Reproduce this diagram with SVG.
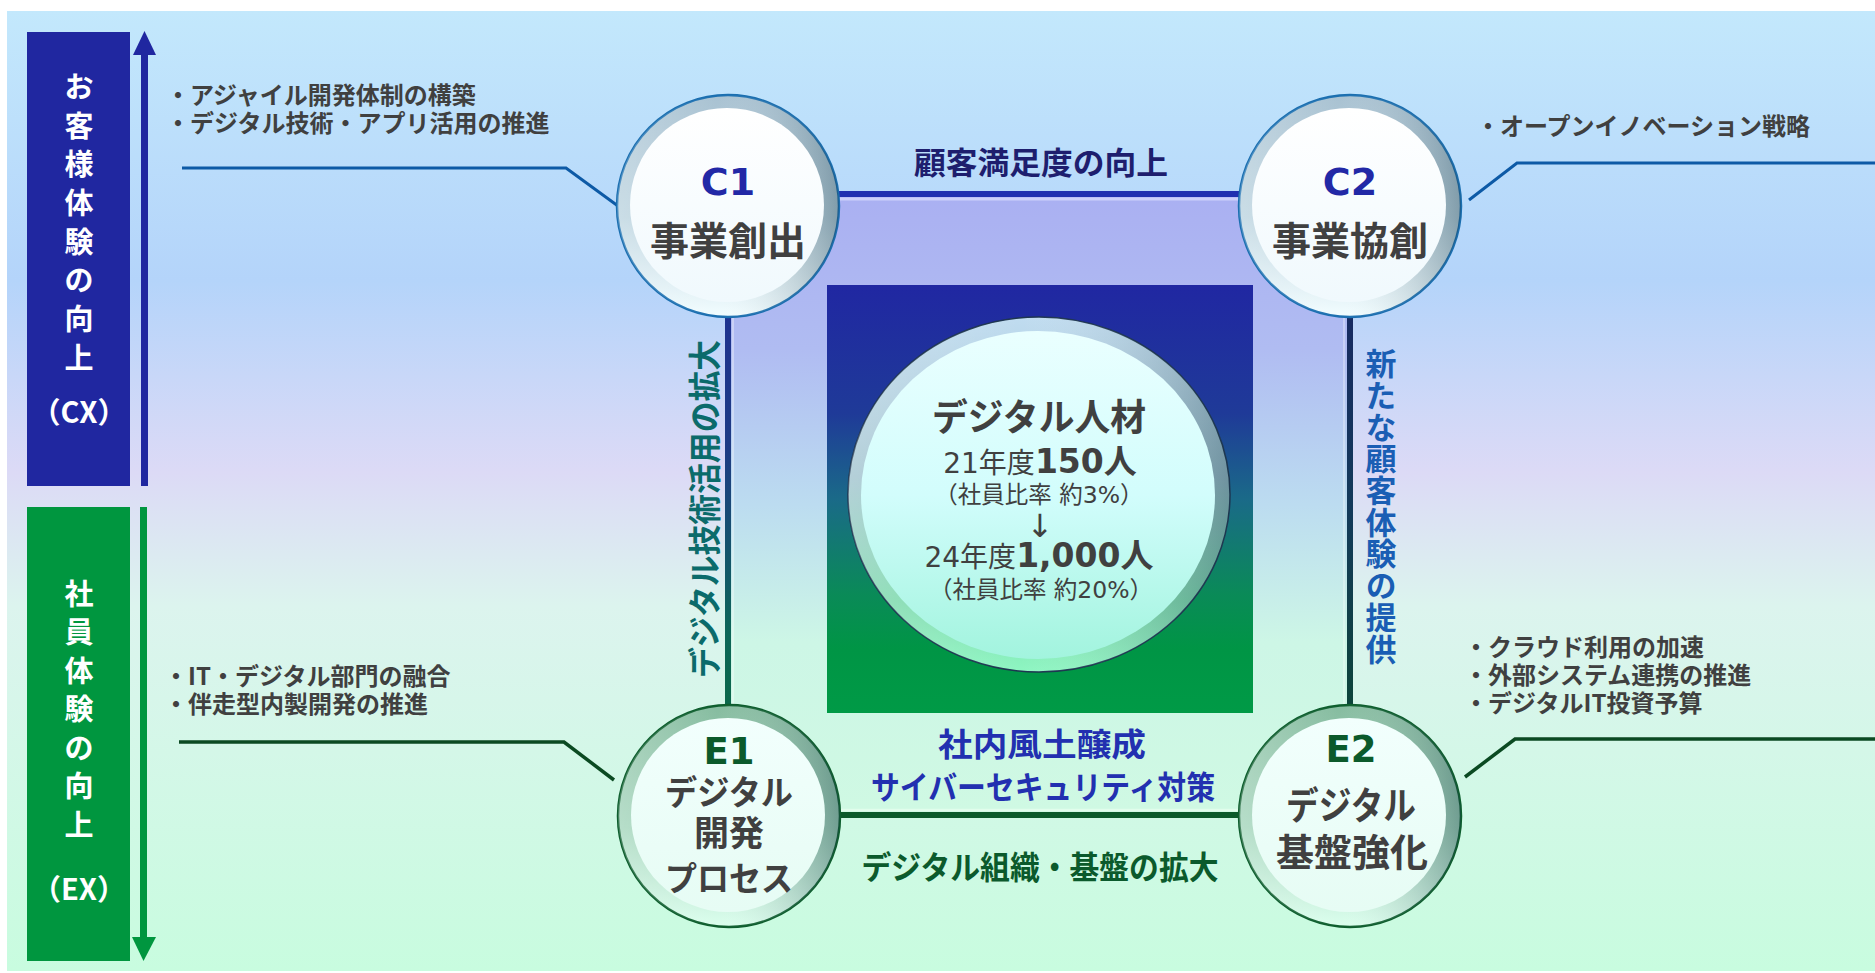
<svg xmlns="http://www.w3.org/2000/svg" width="1875" height="973" viewBox="0 0 1875 973">
<defs>
<linearGradient id="bg" x1="0" y1="0" x2="0" y2="1">
<stop offset="0" stop-color="#c3e8fc"/>
<stop offset="0.28" stop-color="#b4d4fa"/>
<stop offset="0.48" stop-color="#dcdaf6"/>
<stop offset="0.62" stop-color="#dcf4ee"/>
<stop offset="1" stop-color="#c8fcdf"/>
</linearGradient>
<linearGradient id="sq" x1="0" y1="0" x2="0" y2="1">
<stop offset="0" stop-color="#aab0f2"/>
<stop offset="0.25" stop-color="#b0bcf2"/>
<stop offset="0.5" stop-color="#bcdcf0"/>
<stop offset="0.72" stop-color="#cdf6e6"/>
<stop offset="1" stop-color="#cff9e3"/>
</linearGradient>
<linearGradient id="core" x1="0" y1="0" x2="0" y2="1">
<stop offset="0" stop-color="#2027a2"/>
<stop offset="0.3" stop-color="#1f3a98"/>
<stop offset="0.5" stop-color="#1a6a88"/>
<stop offset="0.72" stop-color="#0a8a58"/>
<stop offset="0.85" stop-color="#009545"/>
<stop offset="1" stop-color="#009a46"/>
</linearGradient>
<linearGradient id="vl" x1="0" y1="0" x2="0" y2="1">
<stop offset="0" stop-color="#1e2a9a"/>
<stop offset="0.4" stop-color="#1e3c84"/>
<stop offset="0.7" stop-color="#0c6658"/>
<stop offset="1" stop-color="#0a6a36"/>
</linearGradient>
<linearGradient id="vr" x1="0" y1="0" x2="0" y2="1">
<stop offset="0" stop-color="#1a2266"/>
<stop offset="0.5" stop-color="#133a5a"/>
<stop offset="1" stop-color="#0a4a28"/>
</linearGradient>
<linearGradient id="ringC" x1="0" y1="0" x2="0" y2="1">
<stop offset="0" stop-color="#a9c2d2"/>
<stop offset="0.55" stop-color="#b9d2de"/>
<stop offset="1" stop-color="#f2fdff"/>
</linearGradient>
<linearGradient id="ringE" x1="0" y1="0" x2="0" y2="1">
<stop offset="0" stop-color="#86bca0"/>
<stop offset="0.55" stop-color="#9fd3b8"/>
<stop offset="1" stop-color="#dcffee"/>
</linearGradient>
<linearGradient id="shadeR" x1="0" y1="0" x2="1" y2="0">
<stop offset="0" stop-color="#ffffff" stop-opacity="0.25"/>
<stop offset="0.45" stop-color="#ffffff" stop-opacity="0"/>
<stop offset="1" stop-color="#1c3c4c" stop-opacity="0.35"/>
</linearGradient>
<linearGradient id="innerC" x1="0" y1="0" x2="0" y2="1">
<stop offset="0" stop-color="#ffffff"/>
<stop offset="1" stop-color="#f0f9fd"/>
</linearGradient>
<linearGradient id="innerE" x1="0" y1="0" x2="0" y2="1">
<stop offset="0" stop-color="#f2fffd"/>
<stop offset="1" stop-color="#e6fcf4"/>
</linearGradient>
<linearGradient id="ringM" x1="0" y1="0" x2="0" y2="1">
<stop offset="0" stop-color="#c0dcf0"/>
<stop offset="0.45" stop-color="#9cc0cc"/>
<stop offset="0.8" stop-color="#78d8aa"/>
<stop offset="1" stop-color="#8ef6c2"/>
</linearGradient>
<linearGradient id="innerM" x1="0" y1="0" x2="0" y2="1">
<stop offset="0" stop-color="#eaffff"/>
<stop offset="0.5" stop-color="#d2fdfc"/>
<stop offset="1" stop-color="#a2f4de"/>
</linearGradient>
<style>
.jp{font-family:"Noto Sans CJK JP","Noto Sans CJK SC",sans-serif;font-weight:700}
.lat{font-family:"DejaVu Sans","Noto Sans CJK JP",sans-serif}
.list{font-size:24px;fill:#404040}
.side{font-size:29px;fill:#ffffff;text-anchor:middle}
.ttl{text-anchor:middle;fill:#404040}
.mid{text-anchor:middle}
.cb{stroke:#1b6fb0;stroke-width:2.5}
.eb{stroke:#0e5e2e;stroke-width:2.5}
</style>
</defs>

<rect id="background" x="7" y="11" width="1868" height="960" fill="url(#bg)"/>

<g id="axis-cx">
<rect x="27" y="32" width="103" height="454" fill="#2027a0"/>
<rect x="141" y="50" width="7" height="436" fill="#2027a0"/>
<polygon points="133,55 144.5,31 156,55" fill="#2027a0"/>
<text class="jp side">
<tspan x="79" y="98">お</tspan><tspan x="79" y="137">客</tspan><tspan x="79" y="175">様</tspan><tspan x="79" y="214">体</tspan><tspan x="79" y="253">験</tspan><tspan x="79" y="291">の</tspan><tspan x="79" y="330">向</tspan><tspan x="79" y="369">上</tspan>
</text>
<text class="jp side" x="79" y="423" font-size="31">（CX）</text>
</g>

<g id="axis-ex">
<rect x="27" y="507" width="103" height="454" fill="#00963f"/>
<rect x="140" y="507" width="7" height="432" fill="#00963f"/>
<polygon points="132,937 143.5,961 156,937" fill="#00963f"/>
<text class="jp side">
<tspan x="79" y="605">社</tspan><tspan x="79" y="643">員</tspan><tspan x="79" y="682">体</tspan><tspan x="79" y="720">験</tspan><tspan x="79" y="759">の</tspan><tspan x="79" y="797">向</tspan><tspan x="79" y="836">上</tspan>
</text>
<text class="jp side" x="79" y="900" font-size="31">（EX）</text>
</g>

<rect id="frame-fill" x="728" y="194" width="622" height="621" fill="url(#sq)"/>

<g id="connectors" fill="none">
<line x1="728" y1="194" x2="1350" y2="194" stroke="#2030b0" stroke-width="6"/>
<line x1="728" y1="199" x2="1350" y2="199" stroke="#d4d8fb" stroke-width="3" opacity="0.8"/>
<line x1="728" y1="815" x2="1350" y2="815" stroke="#0b5a2a" stroke-width="6"/>
<line x1="728" y1="810" x2="1350" y2="810" stroke="#e8fff0" stroke-width="2.5" opacity="0.7"/>
<rect x="725" y="206" width="6" height="611" fill="url(#vl)" stroke="none"/>
<line x1="733" y1="206" x2="733" y2="817" stroke="#ffffff" stroke-width="2" opacity="0.35"/>
<rect x="1347" y="206" width="6" height="611" fill="url(#vr)" stroke="none"/>
<line x1="1344" y1="206" x2="1344" y2="817" stroke="#ffffff" stroke-width="2" opacity="0.3"/>
<polyline points="182,168 566,168 618,206" stroke="#0d5aa6" stroke-width="3"/>
<polyline points="179,742 564,742 614,780" stroke="#0b4a22" stroke-width="3.5"/>
<polyline points="1469,200 1517,163 1875,163" stroke="#0d5aa6" stroke-width="3"/>
<polyline points="1465,777 1515,739 1875,739" stroke="#0b4a22" stroke-width="3.5"/>
</g>

<g id="labels">
<text class="jp mid" x="1041" y="173.5" font-size="31" textLength="254" lengthAdjust="spacingAndGlyphs" fill="#1e1e6e">顧客満足度の向上</text>
<text class="jp mid" x="1042" y="756" font-size="32" textLength="208" lengthAdjust="spacingAndGlyphs" fill="#2230b0">社内風土醸成</text>
<text class="jp mid" x="1043" y="798.5" font-size="32" textLength="344" lengthAdjust="spacingAndGlyphs" fill="#2230b0">サイバーセキュリティ対策</text>
<text class="jp mid" x="1040" y="879" font-size="32" textLength="357" lengthAdjust="spacingAndGlyphs" fill="#0b5a2c">デジタル組織・基盤の拡大</text>
<text class="jp mid" transform="translate(717,509) rotate(-90)" font-size="33" textLength="338" lengthAdjust="spacingAndGlyphs" fill="#0b6b6b">デジタル技術活用の拡大</text>
<text class="jp" x="1381" y="348" font-size="31" letter-spacing="0.7" style="writing-mode:vertical-rl" fill="#1a5eb4">新たな顧客体験の提供</text>
</g>

<g id="notes">
<text class="jp list"><tspan x="166" y="104">・アジャイル開発体制の構築</tspan><tspan x="166" y="132">・デジタル技術・アプリ活用の推進</tspan></text>
<text class="jp list"><tspan x="164" y="685">・IT・デジタル部門の融合</tspan><tspan x="164" y="713">・伴走型内製開発の推進</tspan></text>
<text class="jp list"><tspan x="1476" y="135">・オープンイノベーション戦略</tspan></text>
<text class="jp list"><tspan x="1464" y="656">・クラウド利用の加速</tspan><tspan x="1464" y="684">・外部システム連携の推進</tspan><tspan x="1464" y="712">・デジタルIT投資予算</tspan></text>
</g>

<g id="core-digital-talent">
<rect x="827" y="285" width="426" height="428" fill="url(#core)"/>
<ellipse cx="1039" cy="494.5" rx="191" ry="177.5" fill="url(#ringM)" stroke="#1d3550" stroke-width="1.5"/>
<ellipse cx="1039" cy="494.5" rx="191" ry="177.5" fill="url(#shadeR)"/>
<ellipse cx="1038" cy="495" rx="177" ry="164" fill="url(#innerM)"/>
<text class="jp ttl" x="1039" y="430.5" font-size="37" textLength="214" lengthAdjust="spacingAndGlyphs">デジタル人材</text>
<text class="lat ttl" x="1040" y="472.5"><tspan font-size="28" font-weight="400">21年度</tspan><tspan font-size="33" font-weight="700">150人</tspan></text>
<text class="lat ttl" x="1039" y="503" font-size="23.5" font-weight="400">（社員比率 約3%）</text>
<text class="lat ttl" x="1040" y="537" font-size="32" font-weight="400">↓</text>
<text class="lat ttl" x="1039" y="567"><tspan font-size="28" font-weight="400">24年度</tspan><tspan font-size="33" font-weight="700">1,000人</tspan></text>
<text class="lat ttl" x="1041" y="598" font-size="23.5" font-weight="400">（社員比率 約20%）</text>
</g>

<g id="node-c1">
<circle cx="728" cy="206" r="111" fill="url(#ringC)" class="cb"/>
<circle cx="728" cy="206" r="111" fill="url(#shadeR)"/>
<circle cx="727" cy="205" r="97" fill="url(#innerC)"/>
<text class="lat ttl" x="728" y="195" font-size="38" font-weight="700" style="fill:#2228a6">C1</text>
<text class="jp ttl" x="728" y="255" font-size="39">事業創出</text>
</g>

<g id="node-c2">
<circle cx="1350" cy="206" r="111" fill="url(#ringC)" class="cb"/>
<circle cx="1350" cy="206" r="111" fill="url(#shadeR)"/>
<circle cx="1349" cy="205" r="97" fill="url(#innerC)"/>
<text class="lat ttl" x="1350" y="195" font-size="38" font-weight="700" style="fill:#2228a6">C2</text>
<text class="jp ttl" x="1350" y="255" font-size="39">事業協創</text>
</g>

<g id="node-e1">
<circle cx="729" cy="816" r="111" fill="url(#ringE)" class="eb"/>
<circle cx="729" cy="816" r="111" fill="url(#shadeR)"/>
<circle cx="728" cy="815" r="97" fill="url(#innerE)"/>
<text class="lat ttl" x="729" y="764" font-size="37" font-weight="700" style="fill:#0b5a2b">E1</text>
<text class="jp ttl" x="729" y="805" font-size="34" textLength="128" lengthAdjust="spacingAndGlyphs">デジタル</text>
<text class="jp ttl" x="729" y="846" font-size="35">開発</text>
<text class="jp ttl" x="729" y="891" font-size="34" textLength="128" lengthAdjust="spacingAndGlyphs">プロセス</text>
</g>

<g id="node-e2">
<circle cx="1350" cy="816" r="111" fill="url(#ringE)" class="eb"/>
<circle cx="1350" cy="816" r="111" fill="url(#shadeR)"/>
<circle cx="1349" cy="815" r="97" fill="url(#innerE)"/>
<text class="lat ttl" x="1351" y="762" font-size="37" font-weight="700" style="fill:#0b5a2b">E2</text>
<text class="jp ttl" x="1351" y="819" font-size="38" textLength="130" lengthAdjust="spacingAndGlyphs">デジタル</text>
<text class="jp ttl" x="1352" y="866" font-size="38">基盤強化</text>
</g>
</svg>
